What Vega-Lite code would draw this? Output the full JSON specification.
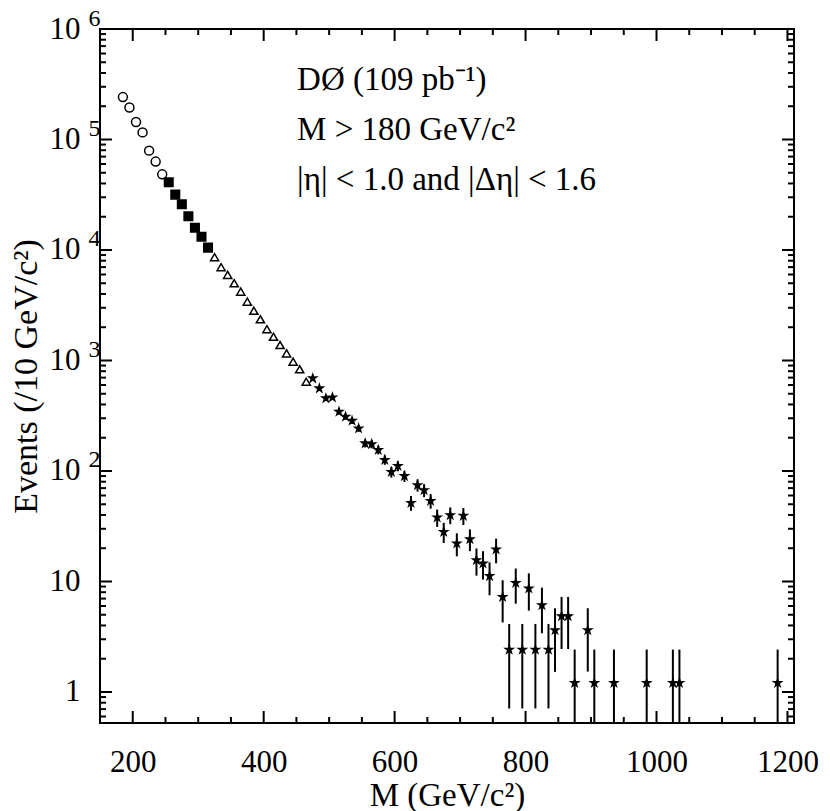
{
  "$schema": "https://vega.github.io/schema/vega-lite/v6.json",
  "width": 694,
  "height": 694,
  "autosize": {"type": "none"},
  "padding": {"left": 100, "top": 29, "right": 36, "bottom": 88},
  "datasets": {
    "pts": [
      {"m": 185, "v": 242000, "s": "o"},
      {"m": 195, "v": 195000, "s": "o"},
      {"m": 205, "v": 144000, "s": "o"},
      {"m": 215, "v": 116000, "s": "o"},
      {"m": 225, "v": 79300, "s": "o"},
      {"m": 235, "v": 63100, "s": "o"},
      {"m": 245, "v": 48400, "s": "o"},
      {"m": 255, "v": 41000, "s": "sq"},
      {"m": 265, "v": 31700, "s": "sq"},
      {"m": 275, "v": 25900, "s": "sq"},
      {"m": 285, "v": 20200, "s": "sq"},
      {"m": 295, "v": 15900, "s": "sq"},
      {"m": 305, "v": 13200, "s": "sq"},
      {"m": 315, "v": 10500, "s": "sq"},
      {"m": 325, "v": 8610, "s": "tri"},
      {"m": 335, "v": 6990, "s": "tri"},
      {"m": 345, "v": 5950, "s": "tri"},
      {"m": 355, "v": 5000, "s": "tri"},
      {"m": 365, "v": 4200, "s": "tri"},
      {"m": 375, "v": 3410, "s": "tri"},
      {"m": 385, "v": 2820, "s": "tri"},
      {"m": 395, "v": 2360, "s": "tri"},
      {"m": 405, "v": 1920, "s": "tri"},
      {"m": 415, "v": 1640, "s": "tri"},
      {"m": 425, "v": 1380, "s": "tri"},
      {"m": 435, "v": 1160, "s": "tri"},
      {"m": 445, "v": 975, "s": "tri"},
      {"m": 455, "v": 832, "s": "tri"},
      {"m": 465, "v": 643, "s": "tri"},
      {"m": 475, "v": 690, "s": "star", "lo": 661, "hi": 719},
      {"m": 485, "v": 560, "s": "star", "lo": 534, "hi": 586},
      {"m": 495, "v": 455, "s": "star", "lo": 431.5, "hi": 478.5},
      {"m": 505, "v": 464, "s": "star", "lo": 440.3, "hi": 487.7},
      {"m": 515, "v": 344, "s": "star", "lo": 323.6, "hi": 364.4},
      {"m": 525, "v": 310, "s": "star", "lo": 290.6, "hi": 329.4},
      {"m": 535, "v": 285, "s": "star", "lo": 266.4, "hi": 303.6},
      {"m": 545, "v": 243, "s": "star", "lo": 225.9, "hi": 260.1},
      {"m": 555, "v": 178, "s": "star", "lo": 163.3, "hi": 192.7},
      {"m": 565, "v": 175, "s": "star", "lo": 160.4, "hi": 189.6},
      {"m": 575, "v": 155, "s": "star", "lo": 141.3, "hi": 168.7},
      {"m": 585, "v": 126, "s": "star", "lo": 113.7, "hi": 138.3},
      {"m": 595, "v": 98, "s": "star", "lo": 87.1, "hi": 108.9},
      {"m": 605, "v": 111, "s": "star", "lo": 99.4, "hi": 122.6},
      {"m": 615, "v": 90, "s": "star", "lo": 79.6, "hi": 100.4},
      {"m": 625, "v": 51.5, "s": "star", "lo": 43.6, "hi": 59.4},
      {"m": 635, "v": 74.5, "s": "star", "lo": 65, "hi": 84},
      {"m": 645, "v": 67, "s": "star", "lo": 58, "hi": 76},
      {"m": 655, "v": 53.7, "s": "star", "lo": 45.6, "hi": 61.8},
      {"m": 665, "v": 38, "s": "star", "lo": 31.2, "hi": 44.8},
      {"m": 675, "v": 28.1, "s": "star", "lo": 22.3, "hi": 33.9},
      {"m": 685, "v": 39.9, "s": "star", "lo": 33, "hi": 46.8},
      {"m": 695, "v": 22.1, "s": "star", "lo": 16.9, "hi": 27.3},
      {"m": 705, "v": 39.3, "s": "star", "lo": 32.4, "hi": 46.2},
      {"m": 715, "v": 24.2, "s": "star", "lo": 18.8, "hi": 29.6},
      {"m": 725, "v": 15.6, "s": "star", "lo": 11.3, "hi": 19.9},
      {"m": 735, "v": 14.6, "s": "star", "lo": 10.4, "hi": 18.8},
      {"m": 745, "v": 11.2, "s": "star", "lo": 7.5, "hi": 14.9},
      {"m": 755, "v": 19.5, "s": "star", "lo": 14.6, "hi": 24.4},
      {"m": 765, "v": 7.26, "s": "star", "lo": 4.26, "hi": 10.26},
      {"m": 775, "v": 2.42, "s": "star", "lo": 0.71, "hi": 4.13},
      {"m": 785, "v": 9.7, "s": "star", "lo": 6.3, "hi": 13.1},
      {"m": 795, "v": 2.42, "s": "star", "lo": 0.71, "hi": 4.13},
      {"m": 805, "v": 8.65, "s": "star", "lo": 5.45, "hi": 11.85},
      {"m": 815, "v": 2.42, "s": "star", "lo": 0.71, "hi": 4.13},
      {"m": 825, "v": 6.1, "s": "star", "lo": 3.4, "hi": 8.8},
      {"m": 835, "v": 2.42, "s": "star", "lo": 0.71, "hi": 4.13},
      {"m": 845, "v": 3.62, "s": "star", "lo": 1.52, "hi": 5.72},
      {"m": 855, "v": 4.85, "s": "star", "lo": 2.45, "hi": 7.25},
      {"m": 865, "v": 4.85, "s": "star", "lo": 2.45, "hi": 7.25},
      {"m": 875, "v": 1.21, "s": "star", "lo": 0.524, "hi": 2.42},
      {"m": 895, "v": 3.63, "s": "star", "lo": 1.53, "hi": 5.73},
      {"m": 905, "v": 1.21, "s": "star", "lo": 0.524, "hi": 2.42},
      {"m": 935, "v": 1.21, "s": "star", "lo": 0.524, "hi": 2.42},
      {"m": 985, "v": 1.21, "s": "star", "lo": 0.524, "hi": 2.42},
      {"m": 1025, "v": 1.21, "s": "star", "lo": 0.524, "hi": 2.42},
      {"m": 1035, "v": 1.21, "s": "star", "lo": 0.524, "hi": 2.42},
      {"m": 1185, "v": 1.21, "s": "star", "lo": 0.524, "hi": 2.42}
    ],
    "notes": [
      {"t": "DØ (109 pb⁻¹)", "m": 451, "v": 281800},
      {"t": "M > 180 GeV/c²", "m": 451, "v": 99300},
      {"t": "|η| < 1.0 and |Δη| < 1.6", "m": 451, "v": 35000}
    ],
    "xmaj": [{"p": 200}, {"p": 400}, {"p": 600}, {"p": 800}, {"p": 1000}, {"p": 1200}],
    "xmin": [{"p": 250}, {"p": 300}, {"p": 350}, {"p": 450}, {"p": 500}, {"p": 550}, {"p": 650}, {"p": 700}, {"p": 750}, {"p": 850}, {"p": 900}, {"p": 950}, {"p": 1050}, {"p": 1100}, {"p": 1150}],
    "ymaj": [{"p": 1}, {"p": 10}, {"p": 100}, {"p": 1000}, {"p": 10000}, {"p": 100000}],
    "ymin": [
      {"p": 0.6}, {"p": 0.7}, {"p": 0.8}, {"p": 0.9},
      {"p": 2}, {"p": 3}, {"p": 4}, {"p": 5}, {"p": 6}, {"p": 7}, {"p": 8}, {"p": 9},
      {"p": 20}, {"p": 30}, {"p": 40}, {"p": 50}, {"p": 60}, {"p": 70}, {"p": 80}, {"p": 90},
      {"p": 200}, {"p": 300}, {"p": 400}, {"p": 500}, {"p": 600}, {"p": 700}, {"p": 800}, {"p": 900},
      {"p": 2000}, {"p": 3000}, {"p": 4000}, {"p": 5000}, {"p": 6000}, {"p": 7000}, {"p": 8000}, {"p": 9000},
      {"p": 20000}, {"p": 30000}, {"p": 40000}, {"p": 50000}, {"p": 60000}, {"p": 70000}, {"p": 80000}, {"p": 90000},
      {"p": 200000}, {"p": 300000}, {"p": 400000}, {"p": 500000}, {"p": 600000}, {"p": 700000}, {"p": 800000}, {"p": 900000}
    ]
  },
  "layer": [
    {
      "data": {"name": "pts"},
      "transform": [{"filter": "isValid(datum.lo)"}],
      "mark": {"type": "rule", "color": "black", "strokeWidth": 2},
      "encoding": {
        "x": {
          "field": "m", "type": "quantitative",
          "scale": {"type": "linear", "domain": [150, 1210], "nice": false, "zero": false},
          "axis": {
            "orient": "bottom", "values": [200, 400, 600, 800, 1000, 1200],
            "format": "d", "ticks": false, "domain": false, "grid": false, "labelPadding": 24,
            "labelFont": "Liberation Serif", "labelFontSize": 31, "labelColor": "black",
            "labelFlush": false, "labelOverlap": false,
            "title": "M (GeV/c²)", "titlePadding": 2,
            "titleFont": "Liberation Serif", "titleFontSize": 33, "titleFontWeight": "normal", "titleColor": "black"
          }
        },
        "y": {
          "field": "lo", "type": "quantitative",
          "scale": {"type": "log", "domain": [0.524, 1000000], "nice": false},
          "axis": {
            "orient": "left", "values": [1, 10, 100, 1000, 10000, 100000, 1000000],
            "labelExpr": "datum.value < 5 ? '1' : '10'",
            "ticks": false, "domain": false, "grid": false, "labelPadding": 20,
            "labelFont": "Liberation Serif", "labelFontSize": 31, "labelColor": "black",
            "labelFlush": false, "labelOverlap": false,
            "title": "Events (/10 GeV/c²)", "titlePadding": 6,
            "titleFont": "Liberation Serif", "titleFontSize": 34, "titleFontWeight": "normal", "titleColor": "black"
          }
        },
        "y2": {"field": "hi"}
      }
    },
    {
      "data": {"name": "xmaj"},
      "mark": {"type": "rule", "color": "black", "strokeWidth": 2},
      "encoding": {
        "x": {"field": "p", "type": "quantitative", "axis": null},
        "y": {"datum": 0.524, "type": "quantitative", "axis": null},
        "y2": {"datum": 0.673}
      }
    },
    {
      "data": {"name": "xmaj"},
      "mark": {"type": "rule", "color": "black", "strokeWidth": 2},
      "encoding": {
        "x": {"field": "p", "type": "quantitative", "axis": null},
        "y": {"datum": 1000000, "type": "quantitative", "axis": null},
        "y2": {"datum": 778400}
      }
    },
    {
      "data": {"name": "xmin"},
      "mark": {"type": "rule", "color": "black", "strokeWidth": 2},
      "encoding": {
        "x": {"field": "p", "type": "quantitative", "axis": null},
        "y": {"datum": 0.524, "type": "quantitative", "axis": null},
        "y2": {"datum": 0.594}
      }
    },
    {
      "data": {"name": "xmin"},
      "mark": {"type": "rule", "color": "black", "strokeWidth": 2},
      "encoding": {
        "x": {"field": "p", "type": "quantitative", "axis": null},
        "y": {"datum": 1000000, "type": "quantitative", "axis": null},
        "y2": {"datum": 882300}
      }
    },
    {
      "data": {"name": "ymaj"},
      "mark": {"type": "rule", "color": "black", "strokeWidth": 2},
      "encoding": {
        "y": {"field": "p", "type": "quantitative", "axis": null},
        "x": {"datum": 150, "type": "quantitative", "axis": null},
        "x2": {"datum": 168.3}
      }
    },
    {
      "data": {"name": "ymaj"},
      "mark": {"type": "rule", "color": "black", "strokeWidth": 2},
      "encoding": {
        "y": {"field": "p", "type": "quantitative", "axis": null},
        "x": {"datum": 1210, "type": "quantitative", "axis": null},
        "x2": {"datum": 1191.7}
      }
    },
    {
      "data": {"name": "ymin"},
      "mark": {"type": "rule", "color": "black", "strokeWidth": 2},
      "encoding": {
        "y": {"field": "p", "type": "quantitative", "axis": null},
        "x": {"datum": 150, "type": "quantitative", "axis": null},
        "x2": {"datum": 159.2}
      }
    },
    {
      "data": {"name": "ymin"},
      "mark": {"type": "rule", "color": "black", "strokeWidth": 2},
      "encoding": {
        "y": {"field": "p", "type": "quantitative", "axis": null},
        "x": {"datum": 1210, "type": "quantitative", "axis": null},
        "x2": {"datum": 1200.8}
      }
    },
    {
      "data": {"name": "pts"},
      "mark": {"type": "point", "filled": false, "stroke": "black", "strokeWidth": 1.5, "opacity": 1},
      "encoding": {
        "x": {"field": "m", "type": "quantitative", "axis": null},
        "y": {"field": "v", "type": "quantitative", "axis": null},
        "shape": {
          "field": "s", "type": "nominal", "legend": null,
          "scale": {
            "domain": ["o", "sq", "tri", "star"],
            "range": ["circle", "square", "triangle-up", "M0,-1L0.225,-0.309L0.951,-0.309L0.363,0.118L0.588,0.809L0,0.382L-0.588,0.809L-0.363,0.118L-0.951,-0.309L-0.225,-0.309Z"]
          }
        },
        "fill": {
          "field": "s", "type": "nominal", "legend": null,
          "scale": {"domain": ["o", "sq", "tri", "star"], "range": ["white", "black", "white", "black"]}
        },
        "size": {
          "field": "s", "type": "ordinal", "legend": null,
          "scale": {"domain": ["o", "sq", "tri", "star"], "range": [80, 60, 100, 340]}
        }
      }
    },
    {
      "data": {"name": "notes"},
      "mark": {"type": "text", "align": "left", "baseline": "alphabetic", "font": "Liberation Serif", "fontSize": 33, "color": "black"},
      "encoding": {
        "x": {"field": "m", "type": "quantitative", "axis": null},
        "y": {"field": "v", "type": "quantitative", "axis": null},
        "text": {"field": "t"}
      }
    },
    {
      "data": {"name": "pts"},
      "mark": {"type": "point", "opacity": 0},
      "encoding": {
        "x": {"field": "m", "type": "quantitative", "axis": null},
        "y": {
          "field": "v", "type": "quantitative",
          "axis": {
            "orient": "left", "values": [100, 1000, 10000, 100000, 1000000],
            "labelExpr": "'' + round(log(datum.value) / LN10)",
            "ticks": false, "domain": false, "grid": false,
            "labelAlign": "left", "labelBaseline": "alphabetic",
            "labelPadding": 12, "labelOffset": -4,
            "labelFont": "Liberation Serif", "labelFontSize": 24, "labelColor": "black",
            "labelFlush": false, "labelOverlap": false, "title": null
          }
        }
      }
    }
  ],
  "resolve": {"axis": {"x": "independent", "y": "independent"}},
  "config": {
    "view": {"stroke": "black", "strokeWidth": 2}
  }
}
